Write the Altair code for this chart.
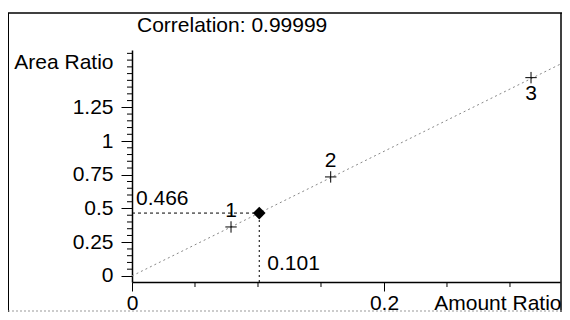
import altair as alt
import pandas as pd

# ---- data ----
point_labels = ["1", "2", "3"]
amount_ratio = [0.0786, 0.1577, 0.3167]
area_ratio = [0.363, 0.734, 1.470]
label_side = ["above", "above", "below"]

unknown_amount = 0.101
unknown_area = 0.466

fit_x = [0.0, 0.3397]
fit_y = [0.0, 1.569]

x_domain = [0.0, 0.3397]
y_domain = [-0.045, 1.675]

x_major = [0, 0.2]
x_minor = [0.05, 0.1, 0.15, 0.25, 0.3]
y_major = [0, 0.25, 0.5, 0.75, 1, 1.25]
y_minor = [0.05, 0.1, 0.15, 0.2, 0.3, 0.35, 0.4, 0.45, 0.55, 0.6, 0.65,
           0.7, 0.8, 0.85, 0.9, 0.95, 1.05, 1.1, 1.15, 1.2, 1.3, 1.35, 1.4,
           1.45, 1.5, 1.55, 1.6, 1.65]

title_text = "Correlation: 0.99999"
x_title = "Amount Ratio"
y_title = "Area Ratio"

FONT = "Liberation Sans"
FS = 21
W, H = 428, 232
PL, PT, PR, PB = 124, 42, 2, 30   # svg = 554 x 304

xs = alt.Scale(domain=x_domain, nice=False, zero=False)
ys = alt.Scale(domain=y_domain, nice=False, zero=False)

X = alt.X("x:Q", scale=xs, axis=alt.Axis(
    values=x_major, format=".1~f", title=x_title, grid=False,
    tickSize=9, labelPadding=18, labelBaseline="alphabetic",
    domainColor="black", domainWidth=1.5,
    tickColor="black", labelColor="black", labelFlush=False,
    titleAnchor="end", titleAlign="right", titleBaseline="alphabetic",
    titleX=W + 1, titleY=27, titleColor="black", titleFontWeight="normal"))
Y = alt.Y("y:Q", scale=ys, axis=alt.Axis(
    values=y_major, format=".2~f", title=y_title, grid=False,
    tickSize=11, labelPadding=8, domainColor="black", domainWidth=1.5,
    tickColor="black", labelColor="black", labelFlush=False,
    titleAngle=0, titleAlign="right", titleBaseline="alphabetic",
    titleX=-19, titleY=18, titleColor="black", titleFontWeight="normal"))

one = alt.Data(values=[{}])

fit_df = pd.DataFrame({"x": fit_x, "y": fit_y})
fit = alt.Chart(fit_df).mark_line(color="#888888", strokeDash=[2, 3], strokeWidth=1).encode(x=X, y=Y)

hguide = alt.Chart(pd.DataFrame({"x": [0.0], "x2": [unknown_amount], "y": [unknown_area]})).mark_rule(
    color="black", strokeDash=[3, 3], strokeWidth=1).encode(x=X, x2="x2:Q", y=Y)
vguide = alt.Chart(pd.DataFrame({"x": [unknown_amount], "y": [y_domain[0]], "y2": [unknown_area]})).mark_rule(
    color="black", strokeDash=[2, 3], strokeWidth=1).encode(x=X, y=Y, y2="y2:Q")

pts_df = pd.DataFrame({"x": amount_ratio, "y": area_ratio, "lab": point_labels, "side": label_side})
pts = alt.Chart(pts_df).mark_point(
    shape="M-1,0H1M0,-1V1", size=130, filled=False, color="black", strokeWidth=1, opacity=1
).encode(x=X, y=Y)

lab_above = alt.Chart(pts_df).transform_filter("datum.side == 'above'").mark_text(
    font=FONT, fontSize=FS, color="black", dy=-16, baseline="middle").encode(x=X, y=Y, text="lab:N")
lab_below = alt.Chart(pts_df).transform_filter("datum.side == 'below'").mark_text(
    font=FONT, fontSize=FS, color="black", dy=16, baseline="middle").encode(x=X, y=Y, text="lab:N")

unk_df = pd.DataFrame({"x": [unknown_amount], "y": [unknown_area]})
diamond = alt.Chart(unk_df).mark_point(
    shape="diamond", size=160, filled=True, color="black", opacity=1).encode(x=X, y=Y)

val_y = alt.Chart(pd.DataFrame({"x": [0.0], "y": [unknown_area], "t": [f"{unknown_area:.3f}"]})).mark_text(
    font=FONT, fontSize=FS, color="black", align="left", baseline="alphabetic", dx=4, dy=-8
).encode(x=X, y=Y, text="t:N")
val_x = alt.Chart(pd.DataFrame({"x": [unknown_amount], "y": [0.0], "t": [f"{unknown_amount:.3f}"]})).mark_text(
    font=FONT, fontSize=FS, color="black", align="left", baseline="alphabetic", dx=8, dy=-6
).encode(x=X, y=Y, text="t:N")

ymin = alt.Chart(pd.DataFrame({"y": y_minor})).mark_rule(color="black", strokeWidth=1).encode(
    y=Y, x=alt.value(-5), x2=alt.value(0))
xmin = alt.Chart(pd.DataFrame({"x": x_minor})).mark_rule(color="black", strokeWidth=1).encode(
    x=X, y=alt.value(H), y2=alt.value(H + 5))

title = alt.Chart(one).mark_text(
    font=FONT, fontSize=FS, color="black", align="left", baseline="alphabetic", text=title_text
).encode(x=alt.value(5), y=alt.value(-18))

frame_top = alt.Chart(one).mark_rule(color="black", strokeWidth=1.5).encode(
    x=alt.value(-PL), x2=alt.value(W + PR), y=alt.value(-37))
frame_left = alt.Chart(one).mark_rule(color="black", strokeWidth=1).encode(
    x=alt.value(-PL + 0.5), y=alt.value(-37), y2=alt.value(H + PB))
frame_right = alt.Chart(one).mark_rule(color="black", strokeWidth=1.5).encode(
    x=alt.value(W + PR - 1), y=alt.value(-37), y2=alt.value(H + PB))
frame_bottom = alt.Chart(one).mark_rule(color="#999999", strokeWidth=1, strokeDash=[2, 2]).encode(
    x=alt.value(-PL), x2=alt.value(W + PR), y=alt.value(H + PB - 1))

chart = alt.layer(
    fit, hguide, vguide, ymin, xmin, pts, lab_above, lab_below, diamond, val_y, val_x,
    title, frame_top, frame_left, frame_right, frame_bottom
).properties(
    width=W, height=H,
    autosize=alt.AutoSizeParams(type="none"),
    padding={"left": PL, "top": PT, "right": PR, "bottom": PB},
    background="white",
).configure_view(stroke=None).configure_axis(
    labelFont=FONT, labelFontSize=FS, titleFont=FONT, titleFontSize=FS
)

chart.save("out.html", embed_options={"renderer": "svg", "actions": False})
